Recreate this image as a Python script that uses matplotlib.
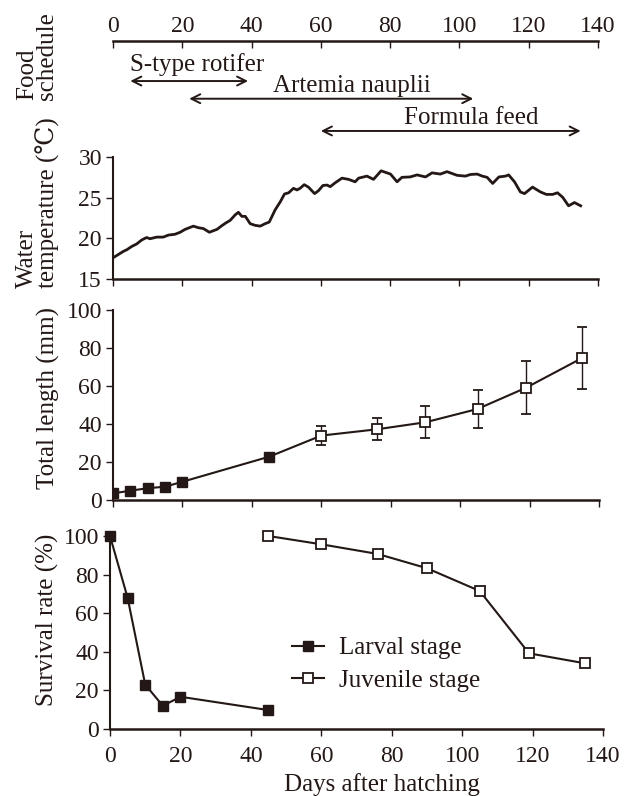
import numpy as np
import matplotlib
matplotlib.use("Agg")
import matplotlib.pyplot as plt

plt.rcParams['font.family'] = ['Liberation Serif', 'DejaVu Serif']
plt.rcParams['font.size'] = 17
ink = "#231815"
plt.rcParams['text.color'] = ink
plt.rcParams['axes.edgecolor'] = ink
plt.rcParams['xtick.color'] = ink
plt.rcParams['ytick.color'] = ink

# food schedule (days)
foods = ["S-type rotifer", "Artemia nauplii", "Formula feed"]
food_start = [5, 22, 60]
food_end = [39, 104, 135]

# water temperature
temp_day = [0, 1.5, 3, 4, 5.4, 6.8, 8.3, 9.7, 10.7, 12.6, 14.5, 16, 17.9, 19.4,
            20.8, 23.2, 24.7, 26.1, 27.8, 30, 31.4, 32.6, 33.8, 35.3, 36.2, 37.2,
            38.2, 39.6, 41, 42.5, 43.9, 45.1, 45.9, 46.8, 48.3, 49.5, 50.7, 52.1,
            53.1, 54, 55.2, 56.4, 58.2, 59.3, 60.6, 61.8, 62.7, 64.2, 66.1, 68,
            69.9, 70.9, 73.3, 75.2, 77.4, 80.1, 82, 83.4, 85.8, 87.8, 89.2, 90.2,
            92.1, 94.5, 96.4, 99.3, 101.7, 103.2, 105.1, 106.6, 108, 109.6, 111.4,
            113.3, 114.2, 115.9, 117.6, 118.8, 121.1, 123.4, 125.1, 126.9, 128.3,
            129.8, 131.5, 133.2, 135]
temp_val = [17.6, 18.0, 18.4, 18.6, 19.0, 19.3, 19.8, 20.1, 19.95, 20.15, 20.15,
            20.4, 20.5, 20.75, 21.1, 21.5, 21.3, 21.2, 20.75, 21.1, 21.55, 21.9,
            22.2, 22.9, 23.2, 22.7, 22.7, 21.8, 21.6, 21.5, 21.8, 22.0, 22.7, 23.5,
            24.5, 25.45, 25.6, 26.15, 25.95, 26.15, 26.6, 26.3, 25.5, 25.85, 26.5,
            26.55, 26.35, 26.85, 27.4, 27.25, 26.95, 27.4, 27.65, 27.25, 28.3, 27.9,
            26.95, 27.5, 27.55, 27.8, 27.65, 27.55, 28.05, 27.9, 28.2, 27.75, 27.65,
            27.85, 27.9, 27.65, 27.5, 26.75, 27.55, 27.65, 27.8, 26.95, 25.7, 25.5,
            26.3, 25.7, 25.4, 25.4, 25.6, 25.05, 24.0, 24.4, 24.0]

# total length (mm)
larv_day = [0, 5, 10, 15, 20, 45]
larv_len = [3.5, 4.9, 6.2, 7.0, 9.6, 22.8]
larv_len_err = [0.4, 0.5, 0.6, 0.7, 0.9, 2.0]
juv_day = [60, 76, 90, 105, 119, 135]
juv_len = [33.9, 37.2, 40.9, 47.9, 59.1, 74.6]
juv_len_err = [5.2, 5.7, 8.5, 9.9, 14.0, 16.2]

# survival rate (%)
larv_surv_day = [0, 5, 10, 15, 20, 45]
larv_surv = [100, 68, 23, 12, 16.7, 9.8]
juv_surv_day = [45, 60, 76, 90, 105, 119, 135]
juv_surv = [100, 95.7, 90.7, 83.3, 71.5, 39.2, 34]

xticks = np.arange(0, 141, 20)
lab_fs = 18

W, H = 627, 796
fig = plt.figure(figsize=(W / 100, H / 100), dpi=100)


def px_axes(left, right, top, bottom):
    return fig.add_axes([left / W, 1 - bottom / H, (right - left) / W, (bottom - top) / H])


# --- food schedule
ax1 = px_axes(113, 598, 41, 145)
ax1.set_xlim(0, 140)
ax1.set_ylim(1, 0)
for s in ["left", "right", "bottom"]:
    ax1.spines[s].set_visible(False)
ax1.spines["top"].set_linewidth(1.8)
ax1.xaxis.tick_top()
ax1.set_xticks(xticks)
ax1.tick_params(axis="x", direction="in", length=5, width=1, pad=3)
ax1.set_yticks([])
rows = [0.385, 0.555, 0.865]
label_rows = [0.225, 0.435, 0.74]
for name, s, e, r, lr in zip(foods, food_start, food_end, rows, label_rows):
    ax1.annotate("", xy=(s, r), xytext=(e, r),
                 arrowprops=dict(arrowstyle="<->", color=ink, lw=1.4,
                                 mutation_scale=16, shrinkA=0, shrinkB=0))
    if s < 10:
        ax1.text(s, lr, name, ha="left", va="center", fontsize=lab_fs)
    else:
        ax1.text((s + e) / 2 + 6, lr, name, ha="center", va="center", fontsize=lab_fs)
fig.text(37 / W, 1 - 100 / H, "Food\nschedule", rotation=90, ha="center",
         va="bottom", multialignment="left", fontsize=lab_fs, linespacing=0.9)

# --- water temperature
ax2 = px_axes(113, 598, 157, 279)
ax2.plot(temp_day, temp_val, color=ink, lw=2.0)
ax2.set_xlim(0, 140)
ax2.set_ylim(15, 30)
ax2.set_yticks([15, 20, 25, 30])
ax2.set_xticks(xticks)
ax2.set_xticklabels([])
fig.text(38 / W, 1 - 288 / H, "Water\ntemperature (\u2103)", rotation=90, ha="center",
         va="bottom", multialignment="left", fontsize=lab_fs, linespacing=0.9)

# --- total length
ax3 = px_axes(113, 599, 310, 500)
ax3.plot(larv_day + juv_day, larv_len + juv_len, color=ink, lw=1.5, zorder=2)
ax3.errorbar(larv_day, larv_len, yerr=larv_len_err, fmt="s", color=ink, mfc=ink,
             mec=ink, ms=7.5, ecolor=ink, elinewidth=1, capsize=3, zorder=3)
ax3.errorbar(juv_day, juv_len, yerr=juv_len_err, fmt="s", color=ink, mfc="white",
             mec=ink, mew=1.3, ms=7.5, ecolor=ink, elinewidth=1, capsize=3.5, zorder=3)
ax3.set_xlim(0, 140)
ax3.set_ylim(0, 100)
ax3.set_yticks(np.arange(0, 101, 20))
ax3.set_xticks(xticks)
ax3.set_xticklabels([])
fig.text(48 / W, 1 - 398 / H, "Total length (mm)", rotation=90, ha="center",
         va="center", fontsize=lab_fs)

# --- survival rate
ax4 = px_axes(110, 603, 536, 729)
ax4.plot(larv_surv_day, larv_surv, "-s", color=ink, mfc=ink, mec=ink, ms=7.5,
         lw=1.5, label="Larval stage", clip_on=False)
ax4.plot(juv_surv_day, juv_surv, "-s", color=ink, mfc="white", mec=ink, mew=1.3,
         ms=7.5, lw=1.5, label="Juvenile stage", clip_on=False)
ax4.set_xlim(0, 140)
ax4.set_ylim(0, 100)
ax4.set_yticks(np.arange(0, 101, 20))
ax4.set_xticks(xticks)
ax4.legend(loc="center left", bbox_to_anchor=(0.369, 0.335), frameon=False,
           handlelength=1.3, handletextpad=0.6, labelspacing=0.4,
           borderpad=0, borderaxespad=0, fontsize=lab_fs)
fig.text(47 / W, 1 - 620 / H, "Survival rate (%)", rotation=90, ha="center",
         va="center", fontsize=lab_fs)
fig.text(382 / W, 1 - 785 / H, "Days after hatching", ha="center", va="center",
         fontsize=lab_fs)

for ax in (ax2, ax3, ax4):
    ax.spines["top"].set_visible(False)
    ax.spines["right"].set_visible(False)
    ax.spines["left"].set_linewidth(1.5)
    ax.spines["bottom"].set_linewidth(1.8)
    ax.tick_params(direction="out", length=5, width=1, pad=3)
ax4.tick_params(axis="x", pad=7)

fig.savefig("out.png", dpi=100)
